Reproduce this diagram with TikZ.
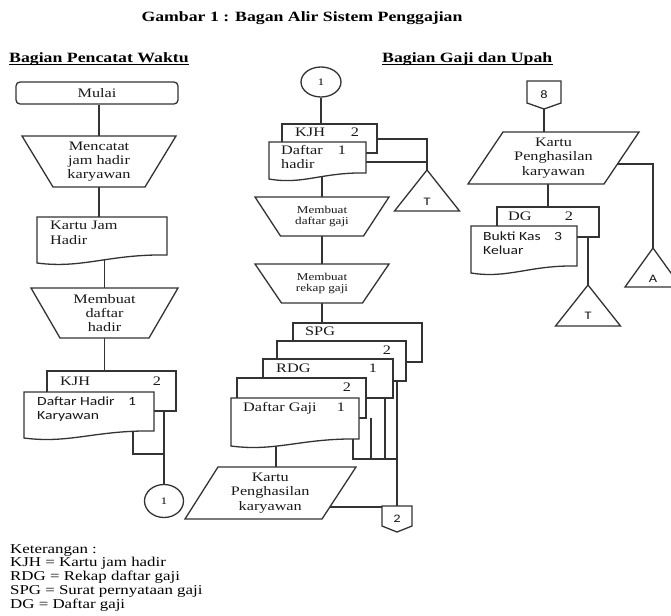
\documentclass[tikz,border=0pt]{standalone}
\usepackage{fontspec}
\setmainfont{Liberation Serif}[FakeStretch=1.25]
\newfontfamily\calib{Carlito}[FakeStretch=1.25]
\usetikzlibrary{calc,shapes.geometric}
\pgfdeclarelayer{bg}
\pgfsetlayers{bg,main}
\tikzset{
 fig/.style={draw=black!80, line width=1.3pt, fill=white},
 conn/.style={draw=black!80, line width=1.3pt},
 bx/.style={inner sep=0pt, outer sep=0pt, draw=none},
 tx/.style={inner sep=0pt, font=\fontsize{13}{14}\selectfont, text=black!90},
 lab/.style={tx, anchor=west, text height=1.5ex, text depth=.25ex},
 clab/.style={tx, anchor=center, text height=1.5ex, text depth=.25ex},
 slab/.style={lab, font=\calib\fontsize{12.5}{14}\selectfont},
 sclab/.style={clab, font=\calib\fontsize{12.5}{14}\selectfont},
 leg/.style={inner sep=0pt, anchor=west, font=\fontsize{13.5}{14}\selectfont, text height=1.5ex, text depth=.25ex},
 head/.style={inner sep=0pt, anchor=base west, font=\bfseries\fontsize{14.2}{16}\selectfont},
}
\newcommand\mkbox[5]{\node[bx, minimum width={(#4-#2)*1pt}, minimum height={(#5-#3)*1pt}] (#1) at ({(#2+#4)/2},{(#3+#5)/2}) {};}
\newcommand\manop[8]{%
 \draw[fig] ({#2-#5},#3) -- ({#2+#5},#3) -- ({#2+#6},#4) -- ({#2-#6},#4) -- cycle;
 \node[bx, minimum width={2*#5*1pt}, minimum height={(#4-#3)*1pt}, align=center, font={#7}, text=black!90] (#1) at (#2,{(#3+#4)/2}) {#8};}
\newcommand\docw[6]{%
 \draw[fig] (#2,#3) -- (#4,#3) -- (#4,{#5-#6}) .. controls ({#2+0.55*(#4-#2)},{#5-#6-1}) and ({#2+0.35*(#4-#2)},{#5+6}) .. (#2,#5) -- cycle;
 \mkbox{#1}{#2}{#3}{#4}{#5}}
\newcommand\rectdoc[5]{%
 \draw[fig] (#2,#3) rectangle (#4,#5);
 \mkbox{#1}{#2}{#3}{#4}{#5}}
\newcommand\para[8]{%
 \draw[fig] (#4,#2) -- (#5,#2) -- (#7,#3) -- (#6,#3) -- cycle;
 \node[bx, minimum width={(#5-#6)*1pt}, minimum height={(#3-#2)*1pt}, align=center, font=\fontsize{13}{14.5}\selectfont, text=black!90] (#1) at ({(#4+#5+#6+#7)/4},{(#2+#3)/2}) {#8};}
\newcommand\offp[7]{%
 \draw[fig] ({#2-#6},#3) -- ({#2+#6},#3) -- ({#2+#6},#4) -- (#2,#5) -- ({#2-#6},#4) -- cycle;
 \node[bx, minimum width={2*#6*1pt}, minimum height={(#5-#3)*1pt}, font=\calib\fontsize{11.5}{12}\selectfont, text=black!90] (#1) at (#2,{(#3+#5)/2}) {#7};}
\newcommand\tri[7]{%
 \draw[fig] (#2,#3) -- ({#2+#5},#4) -- ({#2-#5},#4) -- cycle;
 \mkbox{#1}{#2-#5}{#3}{#2+#5}{#4}
 \node[bx, font=\calib\fontsize{11.5}{12}\selectfont, text=black!90] (#1t) at (#2,#7) {#6};}
\begin{document}
\begin{tikzpicture}[x=1pt, y=-1pt]
\useasboundingbox (0,0) rectangle (671,615);
\begin{pgfonlayer}{bg}
\fill[white] (0,0) rectangle (671,615);
\end{pgfonlayer}
\clip (0,0) rectangle (671,615);

% titles
\node[inner sep=0pt, anchor=base, font=\bfseries\fontsize{14.2}{16}\selectfont] (title) at (302,22) {Gambar 1 : Bagan Alir Sistem Penggajian};
\node[head] (h1) at (9,63) {Bagian Pencatat Waktu};
\node[head] (h2) at (382,63) {Bagian Gaji dan Upah};
\draw[line width=0.8pt] ([yshift=-1.8pt]h1.base west) -- ([yshift=-1.8pt]h1.base east);
\draw[line width=0.8pt] ([yshift=-1.8pt]h2.base west) -- ([yshift=-1.8pt]h2.base east);

% ---------- left column
\node[fig, rounded corners=4pt, minimum width=162pt, minimum height=22pt, inner sep=0pt, font=\fontsize{13}{14}\selectfont, text=black!90] (mulai) at (97,93) {Mulai};
\manop{op1}{99}{136}{187}{77}{46}{\fontsize{13}{14}\selectfont}{Mencatat\\jam hadir\\karyawan}
\docw{kjh}{37}{217}{167}{263}{8}
\node[lab] (kjh1) at (50,227) {Kartu Jam};
\node[lab] (kjh2) at (50,242) {Hadir};
\manop{op2}{104.5}{288}{338}{73.5}{44.5}{\fontsize{13}{14}\selectfont}{Membuat\\daftar\\hadir}
\rectdoc{kjhL}{47}{371}{176}{411}
\node[lab] (kjhLa) at (60,383) {KJH};
\node[clab] (kjhLb) at (157,383) {2};
\docw{dhL}{24}{392}{154}{438}{7}
\node[slab] (dhLa) at (37,403) {Daftar Hadir};
\node[sclab] (dhLb) at (132,403) {1};
\node[slab] (dhLc) at (37,417) {Karyawan};
\node[fig, ellipse, minimum width=39pt, minimum height=33pt, inner sep=0pt, font=\fontsize{10}{10}\selectfont] (c1) at (164,501) {1};

% ---------- middle column
\node[fig, ellipse, minimum width=40pt, minimum height=30pt, inner sep=0pt, font=\fontsize{10}{10}\selectfont] (c2) at (321,82) {1};
\rectdoc{kjhM}{282}{124}{377}{153}
\node[lab] (kjhMa) at (295,134) {KJH};
\node[clab] (kjhMb) at (355,134) {2};
\docw{dhM}{269}{142}{366}{179}{6}
\node[lab] (dhMa) at (281,152) {Daftar};
\node[clab] (dhMb) at (342,152) {1};
\node[lab] (dhMc) at (281,166) {hadir};
\tri{t1}{427}{170}{211}{32.5}{T}{202}
\manop{op3}{322}{197}{236}{67}{41.5}{\fontsize{10.5}{11}\selectfont}{Membuat\\daftar gaji}
\manop{op4}{322}{264}{303}{67}{40.5}{\fontsize{10.5}{11}\selectfont}{Membuat\\rekap gaji}
\rectdoc{spg}{293}{323}{422}{362}
\node[lab] (spga) at (305,333) {SPG};
\rectdoc{r2}{277}{341}{406}{381}
\node[clab] (r2a) at (387,352) {2};
\rectdoc{rdg}{263}{359}{393}{398}
\node[lab] (rdga) at (276,370) {RDG};
\node[clab] (rdgb) at (373,370) {1};
\rectdoc{r4}{237}{378}{366}{418}
\node[clab] (r4a) at (347,389) {2};
\docw{dgd}{231}{398}{359}{446}{7}
\node[lab] (dgda) at (243,409) {Daftar Gaji};
\node[clab] (dgdb) at (341,409) {1};
\para{kp1}{467}{519}{218}{356}{185}{322}{Kartu\\Penghasilan\\karyawan}
\offp{off2}{397}{506}{526}{532}{15}{2}

% ---------- right column
\offp{off8}{544}{81}{103}{109}{17}{8}
\para{kp2}{132}{184}{503}{639}{468}{604}{Kartu\\Penghasilan\\karyawan}
\rectdoc{dgR}{497}{207}{599}{237}
\node[lab] (dgRa) at (508,218) {DG};
\node[clab] (dgRb) at (569,218) {2};
\docw{bkR}{471}{226}{577}{273}{7}
\node[slab] (bkRa) at (483,238) {Bukti Kas};
\node[sclab] (bkRb) at (558,238) {3};
\node[slab] (bkRc) at (483,252) {Keluar};
\tri{tT2}{588}{285}{326}{32.5}{T}{316}
\tri{tA}{653}{248}{287}{28}{A}{279}

% ---------- legend
\node[leg] (k0) at (10,551) {Keterangan :};
\node[leg] (k1) at (10,564) {KJH = Kartu jam hadir};
\node[leg] (k2) at (10,578) {RDG = Rekap daftar gaji};
\node[leg] (k3) at (10,592) {SPG = Surat pernyataan gaji};
\node[leg] (k4) at (10,606) {DG = Daftar gaji};

% ---------- connectors
\coordinate (jL1) at (133,454);
\coordinate (jL2) at (c1.north |- jL1);
\coordinate (dhMr) at ([yshift=-20pt]dhM.north east);
\coordinate (kjhMr) at ([yshift=-15pt]kjhM.north east);
\coordinate (v1) at (353,459);
\coordinate (v2) at (371,459);
\coordinate (v3) at (385,459);
\coordinate (v4) at (off2.north |- v1);
\coordinate (kp1t) at (276,467);
\coordinate (kp1r) at (330,507);
\coordinate (kp2r) at (617,164);
\begin{pgfonlayer}{bg}
\draw[conn] (mulai.south -| op1.north) -- (op1.north);
\draw[conn] (op1.south) -- (op1.south |- kjh.north);
\draw[conn] (kjh.center -| op2.north) -- (op2.north);
\draw[conn] (op2.south) -- (op2.south |- kjhL.north);
\draw[conn] (kjhL.south -| c1.north) -- (c1.north);
\draw[conn] (dhL.center -| jL1) -- (jL1) -- (jL2);
\draw[conn] (c2.south) -- (c2.south |- kjhM.north);
\draw[conn] (kjhMr) -| (t1.north);
\draw[conn] (dhMr) -- (dhMr -| t1.north);
\draw[conn] (dhM.center -| op3.north) -- (op3.north);
\draw[conn] (op3.south) -- (op4.north);
\draw[conn] (op4.south) -- (op4.south |- spg.north);
\draw[conn] (dgd.center -| v1) -- (v1) -- (v4);
\draw[conn] (r4.south -| v2) -- (v2);
\draw[conn] (rdg.south -| v3) -- (v3);
\draw[conn] (r2.south -| off2.north) -- (off2.north);
\draw[conn] (dgd.center -| kp1t) -- (kp1t);
\draw[conn] (kp1r) -- (kp1r -| off2.west);
\draw[conn] (off8.south) -- (off8.south |- kp2.north);
\draw[conn] (kp2r) -| (tA.north);
\draw[conn] (kp2.south -| dgR.north) -- (dgR.north);
\draw[conn] (dgR.south -| tT2.north) -- (tT2.north);
\end{pgfonlayer}
\end{tikzpicture}
\end{document}
